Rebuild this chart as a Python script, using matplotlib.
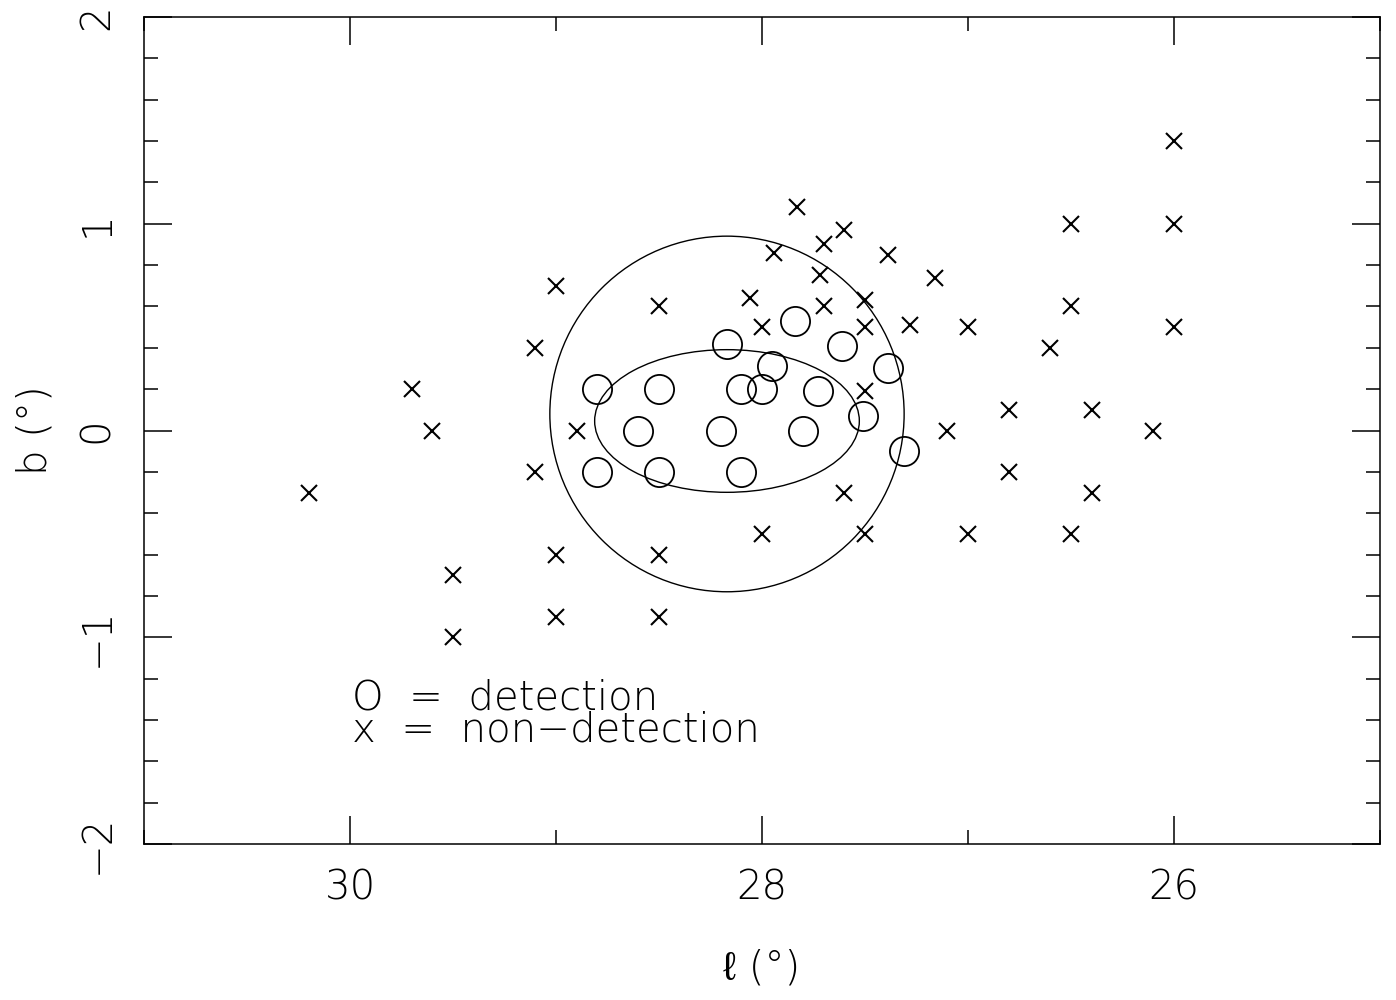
import matplotlib
matplotlib.use("Agg")
from matplotlib import pyplot as plt
from matplotlib.patches import Circle, Ellipse
from matplotlib.ticker import MultipleLocator

# detections (circles)
det_l = [28.8, 28.5, 28.17, 28.1, 28.0, 27.95, 27.84, 27.73, 27.61, 27.39,
         28.6, 28.2, 27.8, 27.51, 28.8, 28.5, 28.1, 27.31]
det_b = [0.2, 0.2, 0.42, 0.2, 0.2, 0.31, 0.53, 0.19, 0.41, 0.30,
         0.0, 0.0, 0.0, 0.07, -0.2, -0.2, -0.2, -0.10]

# non-detections (crosses)
non_l = [30.2, 29.7, 29.6, 29.5, 29.5, 29.1, 29.1, 29.0, 29.0, 29.0,
         28.9, 28.5, 28.5, 28.5, 28.06, 28.0, 28.0, 27.94, 27.83, 27.7,
         27.72, 27.7, 27.6, 27.6, 27.5, 27.5, 27.5, 27.5, 27.39, 27.28,
         27.16, 27.1, 27.0, 27.0, 26.8, 26.8, 26.6, 26.5, 26.5, 26.5,
         26.4, 26.4, 26.1, 26.0, 26.0, 26.0]
non_b = [-0.3, 0.2, 0.0, -0.7, -1.0, 0.4, -0.2, 0.7, -0.6, -0.9,
         0.0, 0.6, -0.6, -0.9, 0.64, 0.5, -0.5, 0.86, 1.08, 0.9,
         0.75, 0.6, 0.97, -0.3, 0.63, 0.5, 0.19, -0.5, 0.85, 0.51,
         0.74, 0.0, 0.5, -0.5, 0.1, -0.2, 0.4, 1.0, 0.6, -0.5,
         0.1, -0.3, 0.0, 1.4, 1.0, 0.5]

# outlines
ring_center = (28.17, 0.08)
ring_radius = 0.86
ell_center = (28.17, 0.046)
ell_width = 1.285
ell_height = 0.69

legend_lines = ['O  =  detection', 'x  =  non\u2212detection']

FAMS = ['DejaVu Sans', 'Liberation Sans', 'Noto Sans']
FONT = dict(family=FAMS, weight="light", size=29)

plt.rcParams['font.family'] = FAMS
plt.rcParams['font.weight'] = 'light'

fig = plt.figure(figsize=(13.96, 10), dpi=100)
ax = fig.add_axes([0.1032, 0.156, 0.8853, 0.827])

ax.plot(det_l, det_b, 'o', ms=21, mfc='none', mec='black', mew=1.3)
ax.plot(non_l, non_b, 'x', ms=11, color='black', mew=1.5)

ax.add_patch(Circle(ring_center, ring_radius, fill=False, ec='black', lw=1.0))
ax.add_patch(Ellipse(ell_center, ell_width, ell_height, fill=False, ec='black', lw=1.0))

ax.set_xlim(31, 25)
ax.set_ylim(-2, 2)

ax.xaxis.set_major_locator(MultipleLocator(2))
ax.xaxis.set_minor_locator(MultipleLocator(1))
ax.yaxis.set_major_locator(MultipleLocator(1))
ax.yaxis.set_minor_locator(MultipleLocator(0.2))
ax.tick_params(which='both', direction='in', top=True, right=True, width=1.1)
ax.tick_params(which='major', length=20)
ax.tick_params(which='minor', length=10)
ax.tick_params(axis='x', which='major', pad=18, labelsize=29)
ax.tick_params(axis='y', which='major', pad=20, labelsize=29, labelrotation=90)
for lab in ax.get_yticklabels():
    lab.set_va('center')
for s in ax.spines.values():
    s.set_linewidth(1.1)

fmt = lambda v, p: ('\u2212%d' % abs(v)) if v < 0 else '%d' % v
ax.xaxis.set_major_formatter(plt.FuncFormatter(fmt))
ax.yaxis.set_major_formatter(plt.FuncFormatter(fmt))

fig.text(762 / 1396, 1 - 968 / 1000, '\u2113 (°)', ha='center', va='center', **FONT)
fig.text(35 / 1396, 1 - 430 / 1000, 'b (°)', ha='center', va='center', rotation=90, **FONT)

ax.text(29.99, -1.505, '\n'.join(legend_lines), ha='left', va='baseline',
        linespacing=0.78, **FONT)

fig.savefig('out.png', dpi=100)
